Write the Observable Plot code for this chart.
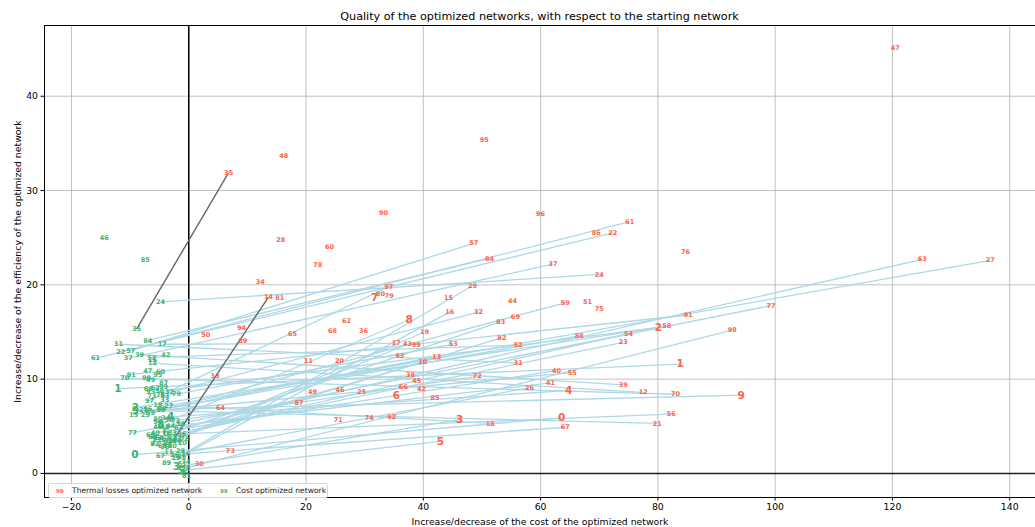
<!DOCTYPE html>
<html>
<head>
<meta charset="utf-8">
<script src="https://cdn.jsdelivr.net/npm/d3@7"></script>
<script src="https://cdn.jsdelivr.net/npm/@observablehq/plot@0.6"></script>
<style>
  body { margin: 0; background: #fff; font-family: "DejaVu Sans", sans-serif; }
  #wrap { position: relative; width: 1035px; height: 527px; overflow: hidden; background: #fff; }
  #title { height: 24px; box-sizing: border-box; padding-left: 44px; text-align: center; font-size: 11.2px; line-height: 12px; padding-top: 11px; color: #000; }
  #legend { position: absolute; left: 48px; top: 483px; width: 278px; height: 13px; border: 1px solid #d8d8d8; border-radius: 2px; background: rgba(255,255,255,0.85); font-size: 7.6px; color: #222; }
  #legend span { position: absolute; top: 2px; white-space: nowrap; }
  #legend .mk { font-weight: bold; font-size: 5.5px; top: 3.5px; }
</style>
</head>
<body>
<div id="wrap">
  <div id="title">Quality of the optimized networks, with respect to the starting network</div>
  <div id="chart"></div>
  <div id="legend">
    <span class="mk" style="left:7px;color:#ff6347">99</span>
    <span style="left:23px">Thermal losses optimized network</span>
    <span class="mk" style="left:171px;color:#3cb371">99</span>
    <span style="left:187px">Cost optimized network</span>
  </div>
</div>
<script>
// network ids 0..99
const ids = d3.range(100);
// cost optimized network (green)
const costX = [-9.2,-12.1,-9.1,-2.1,-3.1,-1.2,-3.9,-6.0,-4.8,-9.1, -4.6,-3.4,-6.2,-9.4,-2.8,-6.2,-0.5,-4.5,-5.3,-3.8, -1.1,-7.7,-11.6,-5.3,-4.8,-7.4,-2.4,-3.4,-1.4,-2.2, -2.8,-12.0,-3.3,-4.1,-3.9,-8.9,-4.1,-10.3,-1.4,-8.4, -5.7,-4.1,-3.9,-1.9,-3.1,-0.9,-14.4,-7.0,-5.3,-6.5, -3.4,-1.1,-6.3,-4.1,-5.0,-4.8,-1.2,-9.9,-5.0,-6.5, -4.8,-15.9,-5.7,-1.7,-2.1,-4.5,-6.9,-4.8,-6.5,-6.2, -10.9,-3.4,-2.2,-6.3,-0.5,-4.8,-3.6,-9.6,-0.7,-2.1, -5.3,-0.4,-5.8,-2.8,-7.0,-7.4,-1.2,-4.3,-4.6,-3.8, -7.2,-9.8,-2.9,-6.5,-5.3,-5.3,-7.0,-6.7,-0.5,-4.3];
const costY = [2.0,9.0,7.0,0.7,6.0,0.3,4.3,3.4,5.2,6.7, 3.6,2.3,11.7,6.2,3.4,12.0,2.1,13.7,7.3,3.2, 3.2,6.7,12.9,3.8,18.2,6.2,2.0,7.2,2.4,1.6, 2.9,13.7,8.6,7.8,5.9,15.3,2.8,12.2,5.3,12.6, 4.3,4.9,12.6,3.7,5.0,0.1,25.0,10.9,4.9,9.9, 5.7,1.0,12.3,8.2,3.8,6.7,4.2,13.0,8.7,6.4, 10.8,12.2,9.1,4.8,3.5,2.9,9.0,1.9,4.1,3.9, 10.1,3.5,5.6,8.2,1.2,8.3,2.9,4.3,3.7,8.4, 5.8,-0.3,3.1,4.3,14.1,22.6,1.8,9.6,6.8,1.1, 10.1,10.5,3.8,8.6,5.5,10.4,6.8,7.7,0.6,9.2];
// thermal losses optimized network (red)
const thermX = [63.6,83.8,80.1,46.2,64.8,42.9,35.4,31.7,37.6,94.2, 39.9,20.4,77.5,42.3,13.6,44.3,44.5,35.4,51.4,40.2, 25.7,79.9,72.3,74.1,70.0,29.5,58.1,136.7,15.7,48.4, 1.8,56.2,49.4,4.5,12.2,6.8,29.8,62.1,37.8,74.1, 62.7,61.7,39.7,37.3,55.2,38.9,25.8,120.5,16.2,21.1, 2.9,68.0,56.2,45.1,75.0,65.4,82.3,48.6,81.5,64.2, 24.0,75.2,26.9,125.1,5.4,17.7,36.6,64.2,24.5,55.7, 83.0,25.5,49.2,7.1,30.8,70.0,84.7,99.3,22.0,34.2, 32.7,15.5,53.4,53.2,51.3,42.0,69.5,18.8,66.6,9.2, 33.2,85.2,34.6,36.0,9.0,50.4,60.0,34.1,92.7,38.8];
const thermY = [5.9,11.6,15.5,5.7,8.8,3.4,8.3,18.6,16.3,8.3, 11.8,11.9,8.6,12.4,18.7,18.6,17.1,13.8,5.3,15.0, 11.9,5.3,25.5,13.9,21.1,8.6,9.1,22.6,24.8,19.9, 1.0,11.7,17.1,10.3,20.3,31.9,15.1,22.2,10.5,9.4, 10.9,9.6,9.0,13.7,18.3,9.8,8.9,45.1,33.7,8.6, 14.7,18.2,13.6,13.7,14.8,10.7,6.3,24.4,15.6,18.1, 24.0,26.7,16.2,22.7,6.9,14.8,9.2,4.9,15.1,16.6, 8.4,5.7,10.3,2.4,5.9,17.4,23.5,17.8,22.1,18.8, 19.0,18.6,14.4,16.1,22.8,8.0,25.5,7.5,14.6,14.1, 27.6,16.8,6.0,12.5,15.4,35.4,27.5,19.8,15.2,13.6];
// pairs joined by a light blue line
const linkedIds = [61,22,57,84,37,24,97,29,59,32,16,8,19,83,82,17,43,53,13,10,52,88,23,54,2,58,91,98,77,63,27,1,40,55,31,72,41,26,4,39,12,70,9,56,21,0,67,18,3,5];
// pairs joined by a dark gray line
const grayIds = [35, 14];
const xTicks = [-20, 0, 20, 40, 60, 80, 100, 120, 140];
const yTicks = [0, 10, 20, 30, 40];
const xLabel = "Increase/decrease of the cost of the optimized network";
const yLabel = "Increase/decrease of the efficiency of the optimized network";

const rows = ids.map(i => ({id: i, label: String(i), cx: costX[i], cy: costY[i], tx: thermX[i], ty: thermY[i]}));
const links = rows.filter(d => linkedIds.includes(d.id));
const grays = rows.filter(d => grayIds.includes(d.id));
const single = rows.filter(d => d.label.length === 1);
const double = rows.filter(d => d.label.length > 1);

const RED = "#ff6347", GREEN = "#3cb371";
const xDom = [-24.6, 144.4], yDom = [-2.55, 47.5];

const chart = Plot.plot({
  width: 1035,
  height: 503,
  marginLeft: 44,
  marginRight: 0,
  marginTop: 1,
  marginBottom: 30,
  style: {fontFamily: "DejaVu Sans, sans-serif", fontSize: "9.3px", color: "#000", background: "#fff", overflow: "visible"},
  x: {domain: xDom, ticks: xTicks, tickSize: 3.5, tickPadding: 2.5, label: xLabel, labelAnchor: "center", labelOffset: 27, labelArrow: "none"},
  y: {domain: yDom, ticks: yTicks, tickSize: 3.5, tickPadding: 3, label: yLabel, labelAnchor: "center", labelOffset: 30, labelArrow: "none"},
  marks: [
    Plot.ruleX(xTicks, {stroke: "#b0b0b0", strokeWidth: 0.8}),
    Plot.ruleY(yTicks, {stroke: "#b0b0b0", strokeWidth: 0.8}),
    Plot.ruleX([0], {stroke: "#000", strokeWidth: 1.5}),
    Plot.ruleY([0], {stroke: "#222", strokeWidth: 1.6}),
    Plot.link(links, {x1: "cx", y1: "cy", x2: "tx", y2: "ty", stroke: "#add8e6", strokeWidth: 1.3}),
    Plot.link(grays, {x1: "cx", y1: "cy", x2: "tx", y2: "ty", stroke: "#666", strokeWidth: 1.4}),
    Plot.text(double, {x: "tx", y: "ty", text: "label", fill: RED, fontSize: 6.5, fontWeight: "bold"}),
    Plot.text(single, {x: "tx", y: "ty", text: "label", fill: RED, fontSize: 10.5, fontWeight: "bold"}),
    Plot.text(double, {x: "cx", y: "cy", text: "label", fill: GREEN, fontSize: 6.5, fontWeight: "bold"}),
    Plot.text(single, {x: "cx", y: "cy", text: "label", fill: GREEN, fontSize: 10.5, fontWeight: "bold"}),
    Plot.ruleX([xDom[0]], {stroke: "#000", strokeWidth: 1}),
    Plot.ruleY([yDom[0], yDom[1]], {stroke: "#000", strokeWidth: 1})
  ]
});
document.getElementById("chart").appendChild(chart);
</script>
</body>
</html>
